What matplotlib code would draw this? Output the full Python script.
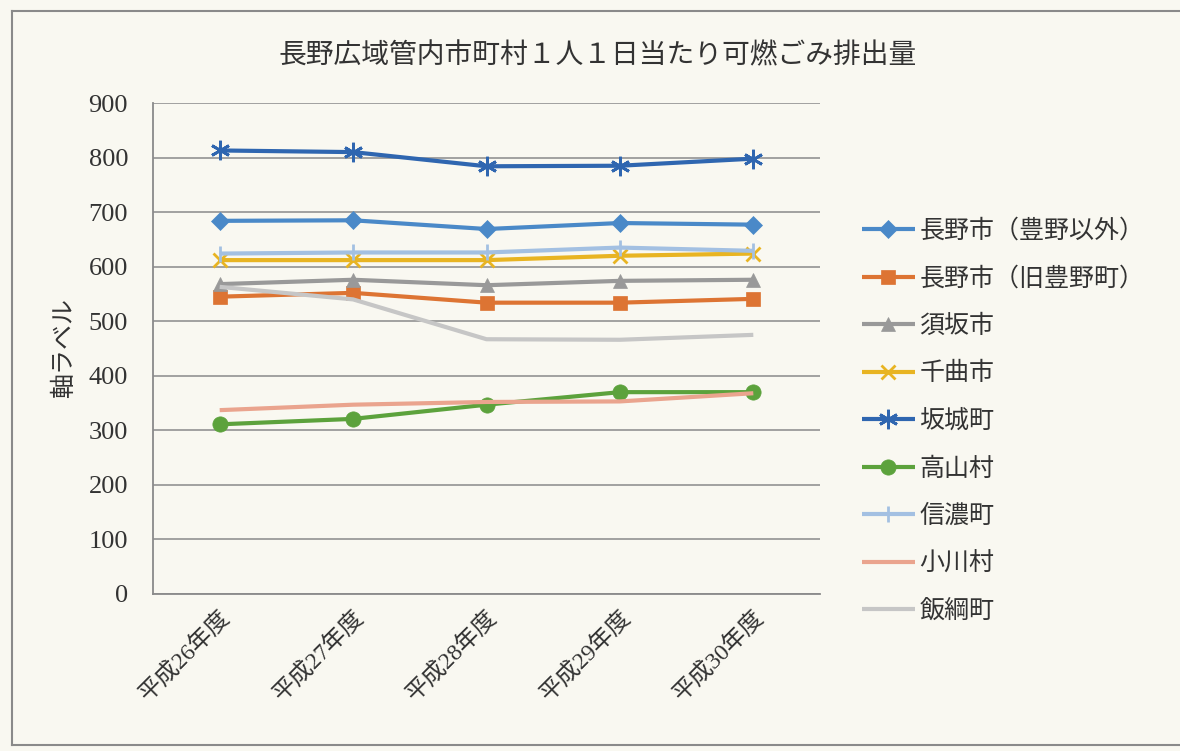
import matplotlib.pyplot as plt
from matplotlib.lines import Line2D

plt.rcParams["font.family"] = ["Noto Sans CJK JP", "DejaVu Sans"]

TITLE = "長野広域管内市町村１人１日当たり可燃ごみ排出量"
YEARS = ["平成26年度", "平成27年度", "平成28年度", "平成29年度", "平成30年度"]

nagano = [684, 685, 669, 680, 677]
toyono = [545, 552, 534, 534, 541]
suzaka = [568, 576, 566, 574, 576]
chikuma = [612, 612, 612, 620, 624]
sakaki = [813, 810, 784, 785, 798]
takayama = [311, 321, 347, 370, 370]
shinano = [624, 626, 626, 635, 629]
ogawa = [337, 347, 352, 353, 368]
iizuna = [563, 540, 467, 466, 475]

# (label, values, color, marker, marker size)
SERIES = [
    ("長野市（豊野以外）", nagano, "#4a89c8", "D", 9),
    ("長野市（旧豊野町）", toyono, "#dd7433", "s", 10),
    ("須坂市", suzaka, "#999999", "^", 10),
    ("千曲市", chikuma, "#e8b422", "x", 10),
    ("坂城町", sakaki, "#2f66b0", (6, 2, 0), 14),
    ("高山村", takayama, "#5ca23c", "o", 11),
    ("信濃町", shinano, "#a3c0e2", "|", 12),
    ("小川村", ogawa, "#eaa48e", None, 0),
    ("飯綱町", iizuna, "#c6c6c6", None, 0),
]

BG = "#f9f8f1"
SERIF = ["Liberation Serif", "Noto Sans CJK JP"]

fig = plt.figure(figsize=(11.8, 7.51), dpi=100, facecolor=BG)
ax = fig.add_axes([153 / 1180, 1 - 594 / 751, (820 - 153) / 1180, (594 - 103) / 751])
ax.set_facecolor(BG)

x = list(range(len(YEARS)))
for label, vals, color, marker, ms in SERIES:
    ax.plot(x, vals, color=color, lw=3, marker=marker, ms=ms,
            mew=2 if marker in ("x", "|", (6, 2, 0)) else 0.5,
            mec=color, label=label, solid_capstyle="butt", zorder=3)

ax.set_xlim(-0.5, len(YEARS) - 0.5)
ax.set_ylim(0, 900)
ax.set_yticks(range(0, 901, 100))
ax.grid(axis="y", color="#9a9a9a", lw=1.3, zorder=0)
ax.set_axisbelow(True)
for s in ("top", "right"):
    ax.spines[s].set_visible(False)
for s in ("left", "bottom"):
    ax.spines[s].set_color("#8a8a8a")
    ax.spines[s].set_linewidth(1.3)

ax.tick_params(axis="y", length=0, pad=18, labelsize=19, labelcolor="#333333")
ax.tick_params(axis="x", length=0, pad=9, labelcolor="#333333")
for t in ax.get_yticklabels():
    t.set_family(SERIF)
ax.set_xticks(x)
ax.set_xticklabels(YEARS, rotation=45, ha="right", va="top",
                   rotation_mode="anchor", fontsize=17, family=SERIF)

ax.set_ylabel("軸ラベル", fontsize=18, color="#333333", labelpad=8)
fig.text(598 / 1180, 1 - 55 / 751, TITLE, ha="center", va="center",
         fontsize=20, color="#333333")

leg = ax.legend(loc="upper left", bbox_to_anchor=(852 / 1180, 1 - 208 / 751),
                bbox_transform=fig.transFigure, frameon=False, fontsize=18,
                labelspacing=0.86, handlelength=2.1, handletextpad=0.2,
                borderaxespad=0)
for t in leg.get_texts():
    t.set_color("#333333")

# outer chart frame
frame = dict(color="#8a8a8a", lw=1.5, transform=fig.transFigure)
fig.add_artist(Line2D([12 / 1180, 1], [1 - 11 / 751, 1 - 11 / 751], **frame))
fig.add_artist(Line2D([12 / 1180, 12 / 1180], [1 - 11 / 751, 1 - 745 / 751], **frame))
fig.add_artist(Line2D([12 / 1180, 1], [1 - 745 / 751, 1 - 745 / 751], **frame))

fig.savefig("out.png", dpi=100, facecolor=BG)
